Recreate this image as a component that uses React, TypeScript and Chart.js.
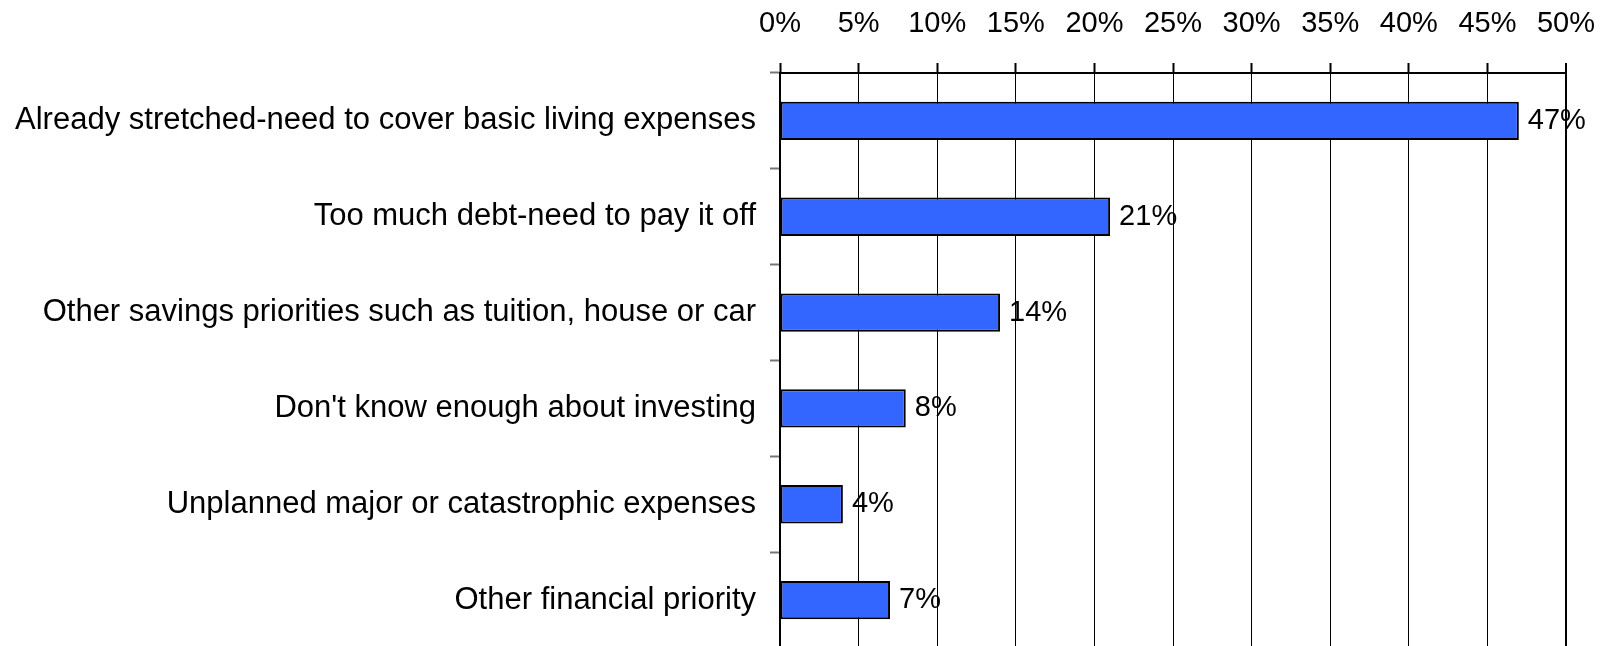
import React, { useEffect, useRef } from "react";
import { Chart, registerables } from "chart.js";

Chart.register(...registerables);

const categories = [
  "Already stretched-need to cover basic living expenses",
  "Too much debt-need to pay it off",
  "Other savings priorities such as tuition, house or car",
  "Don't know enough about investing",
  "Unplanned major or catastrophic expenses",
  "Other financial priority",
];
const values = [47, 21, 14, 8, 4, 7];
const axisMin = 0;
const axisMax = 50;
const axisStep = 5;

const FONT = "'Liberation Sans', Arial, Helvetica, sans-serif";

const valueLabels = {
  id: "valueLabels",
  afterDatasetsDraw(chart: any) {
    const ctx = chart.ctx;
    const meta = chart.getDatasetMeta(0);
    ctx.save();
    ctx.font = `29px ${FONT}`;
    ctx.fillStyle = "#000";
    ctx.textAlign = "left";
    ctx.textBaseline = "middle";
    meta.data.forEach((bar: any, i: number) => {
      ctx.fillText(values[i] + "%", bar.x + 9, bar.y);
    });
    ctx.restore();
  },
};

export default function App() {
  const ref = useRef<HTMLCanvasElement | null>(null);
  useEffect(() => {
    if (!ref.current) return;
    const chart = new Chart(ref.current, {
      type: "bar",
      data: {
        labels: categories,
        datasets: [
          {
            data: values,
            backgroundColor: "#3366FF",
            borderColor: "#000",
            borderWidth: 2,
            borderSkipped: false,
            barPercentage: 0.4,
            categoryPercentage: 1,
          },
        ],
      },
      options: {
        indexAxis: "y",
        responsive: false,
        animation: false,
        layout: { padding: { left: 0, right: 35, top: 0, bottom: 0 } },
        plugins: { legend: { display: false }, tooltip: { enabled: false } },
        scales: {
          x: {
            position: "top",
            min: axisMin,
            max: axisMax,
            afterFit: (s: any) => {
              s.height = 73;
              s.paddingLeft = 0;
              s.paddingRight = 0;
            },
            ticks: {
              stepSize: axisStep,
              autoSkip: false,
              maxRotation: 0,
              padding: 22,
              color: "#000",
              font: { family: FONT, size: 29 },
              callback: (v: any) => v + "%",
            },
            grid: {
              color: "#000",
              lineWidth: (c: any) => (c.index === 10 ? 2 : 1),
              tickLength: 10,
              tickColor: "#000",
              tickWidth: 2,
            },
            border: { display: true, color: "#000", width: 2 },
          },
          y: {
            afterFit: (s: any) => {
              s.width = 780;
              s.paddingTop = 0;
              s.paddingBottom = 0;
            },
            ticks: {
              padding: 14,
              color: "#000",
              font: { family: FONT, size: 31 },
            },
            grid: {
              drawOnChartArea: false,
              tickLength: 10,
              tickColor: "#777",
              tickWidth: 2,
            },
            border: { display: true, color: "#000", width: 2 },
          },
        },
      },
      plugins: [valueLabels],
    });
    return () => chart.destroy();
  }, []);
  return (
    <div
      style={{
        position: "fixed",
        left: 0,
        top: 0,
        width: 1601,
        height: 646,
        overflow: "hidden",
        background: "#fff",
      }}
    >
      <canvas ref={ref} width={1601} height={648} style={{ display: "block" }} />
    </div>
  );
}
